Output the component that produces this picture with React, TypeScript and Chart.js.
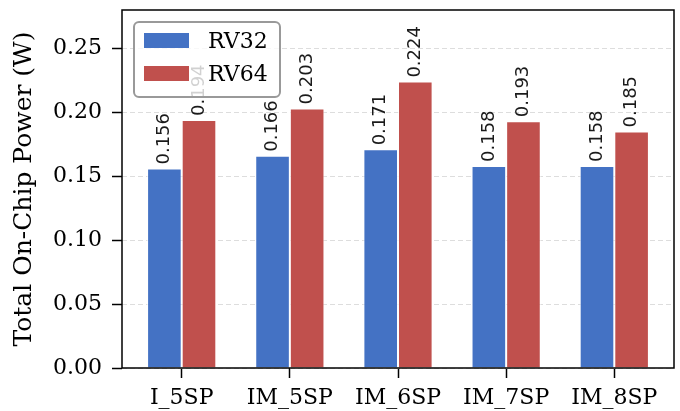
import React, { useEffect, useRef } from "react";
import { Chart, registerables } from "chart.js";

Chart.register(...registerables);

const categories = ["I_5SP", "IM_5SP", "IM_6SP", "IM_7SP", "IM_8SP"];
const rv32 = [0.156, 0.166, 0.171, 0.158, 0.158];
const rv64 = [0.194, 0.203, 0.224, 0.193, 0.185];
const seriesNames = ["RV32", "RV64"];
const seriesColors = ["#4472C4", "#C0504D"];
const yTicks = [0, 0.05, 0.1, 0.15, 0.2, 0.25];

const SERIF = "'DejaVu Serif', serif";
const SANS = "'DejaVu Sans', sans-serif";

const overlayPlugin = {
  id: "overlay",
  afterDatasetsDraw(chart: any) {
    const ctx = chart.ctx;
    ctx.save();
    ctx.fillStyle = "#1a1a1a";
    ctx.font = `18px ${SANS}`;
    ctx.textAlign = "left";
    ctx.textBaseline = "middle";
    chart.data.datasets.forEach((ds: any, di: number) => {
      const meta = chart.getDatasetMeta(di);
      meta.data.forEach((bar: any, i: number) => {
        const v = ds.data[i].y;
        ctx.save();
        ctx.translate(bar.x, bar.y - 4);
        ctx.rotate(-Math.PI / 2);
        ctx.fillText(v.toFixed(3), 0, 0);
        ctx.restore();
      });
    });
    ctx.restore();
  },
  afterDraw(chart: any) {
    const ctx = chart.ctx;
    const a = chart.chartArea;
    ctx.save();
    // frame
    ctx.strokeStyle = "#000";
    ctx.lineWidth = 1.5;
    ctx.strokeRect(a.left, a.top, a.right - a.left, a.bottom - a.top);
    // legend
    const lx = a.left + 12;
    const ly = a.top + 12;
    const lw = 146;
    const lh = 75;
    ctx.beginPath();
    (ctx as any).roundRect(lx, ly, lw, lh, 5);
    ctx.fillStyle = "rgba(255,255,255,0.8)";
    ctx.fill();
    ctx.strokeStyle = "#999";
    ctx.lineWidth = 2;
    ctx.stroke();
    ctx.font = `22px ${SERIF}`;
    ctx.textAlign = "left";
    ctx.textBaseline = "alphabetic";
    seriesNames.forEach((name, i) => {
      const sy = ly + 11 + i * 33;
      ctx.fillStyle = seriesColors[i];
      ctx.fillRect(lx + 10, sy, 45, 15);
      ctx.fillStyle = "#000";
      ctx.fillText(name, lx + 74, sy + 15);
    });
    ctx.restore();
  },
};

export default function App() {
  const ref = useRef<HTMLCanvasElement>(null);
  useEffect(() => {
    document.body.style.margin = "0";
    const chart = new Chart(ref.current as HTMLCanvasElement, {
      type: "bar",
      data: {
        datasets: [rv32, rv64].map((vals, di) => ({
          label: seriesNames[di],
          data: vals.map((v, i) => ({ x: i, y: v })),
          backgroundColor: seriesColors[di],
          borderColor: "rgba(255,255,255,0.75)",
          borderWidth: 1,
          categoryPercentage: 0.64,
          barPercentage: 1.0,
        })),
      },
      options: {
        animation: false,
        responsive: false,
        devicePixelRatio: 1,
        layout: { padding: { top: 10, right: 6, left: 0, bottom: 0 } },
        plugins: { legend: { display: false }, tooltip: { enabled: false } },
        scales: {
          x: {
            type: "linear",
            offset: false,
            min: -0.552,
            max: 4.552,
            afterBuildTicks: (s: any) => {
              s.ticks = categories.map((_, i) => ({ value: i }));
            },
            afterFit: (s: any) => {
              s.height = 43;
              s.paddingLeft = 0;
              s.paddingRight = 0;
            },
            grid: {
              offset: false,
              drawOnChartArea: false,
              drawTicks: true,
              tickLength: 10,
              tickColor: "#000",
              tickWidth: 1.5,
            },
            border: { display: false },
            ticks: {
              autoSkip: false,
              maxRotation: 0,
              padding: 7,
              color: "#000",
              font: { family: SERIF, size: 22 },
              callback: (v: any) => categories[v] ?? "",
            },
          },
          y: {
            min: 0,
            max: 0.28,
            afterBuildTicks: (s: any) => {
              s.ticks = yTicks.map((v) => ({ value: v }));
            },
            afterFit: (s: any) => {
              s.width = 122;
              s.paddingTop = 0;
              s.paddingBottom = 0;
            },
            grid: {
              color: "#dddddd",
              lineWidth: 1,
              drawTicks: true,
              tickLength: 10,
              tickColor: "#000",
              tickWidth: 1.5,
            },
            border: { display: false, dash: [5, 3] },
            ticks: {
              padding: 10,
              color: "#000",
              font: { family: SERIF, size: 22 },
              callback: (v: any) => Number(v).toFixed(2),
            },
            title: {
              display: true,
              text: "Total On-Chip Power (W)",
              color: "#000",
              font: { family: SERIF, size: 25 },
              padding: { top: 9, bottom: 0 },
            },
          },
        },
      },
      plugins: [overlayPlugin],
    } as any);
    return () => chart.destroy();
  }, []);
  return (
    <div style={{ width: 680, height: 411 }}>
      <canvas ref={ref} width={680} height={411} />
    </div>
  );
}
